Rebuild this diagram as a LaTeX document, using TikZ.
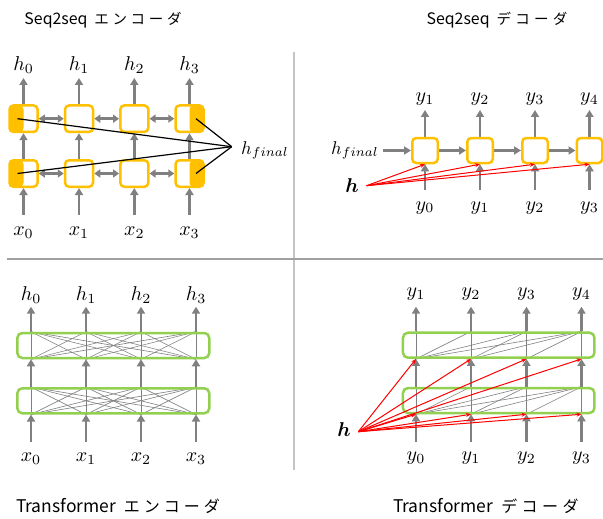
\documentclass[tikz,border=0pt]{standalone}
\usepackage{fontspec}
\usepackage{amsmath}
\usepackage{bm}
\newfontfamily\cjk{Noto Sans CJK JP}
\newcommand{\jc}[2]{\makebox[#1pt]{#2}}
\newcommand{\ml}[1]{\scalebox{2}{$#1$}}
\newcommand{\mlf}[1]{\scalebox{1.85}{$#1$}}
\usetikzlibrary{arrows.meta,backgrounds,calc}
\definecolor{gold}{HTML}{FFC000}
\definecolor{lgreen}{HTML}{92D050}
\definecolor{ag}{HTML}{808080}
\definecolor{divg}{HTML}{C4C4C4}
\begin{document}
\begin{tikzpicture}[x=1pt,y=-1pt,
  lab/.style={inner sep=0pt, font=\fontsize{10}{12}\selectfont},
  ttl/.style={inner sep=0pt, anchor=base, font=\cjk\fontsize{15}{18}\selectfont},
  rnnbox/.style={draw=gold, line width=2.5pt, rounded corners=4pt, fill=white, inner sep=0pt, minimum width=28pt, minimum height=26.5pt},
  rnnboxd/.style={rnnbox, minimum width=25.5pt, minimum height=25pt},
  fillL/.style={path picture={\fill[gold] (path picture bounding box.south west) rectangle (path picture bounding box.north);}},
  fillR/.style={path picture={\fill[gold] (path picture bounding box.south) rectangle (path picture bounding box.north east);}},
  layerbox/.style={draw=lgreen, line width=2.5pt, rounded corners=5pt, inner sep=0pt, minimum height=25pt},
  garrow/.style={draw=ag, line width=2.5pt, -{Triangle[length=7pt,width=8pt]}},
  gdarrow/.style={draw=ag, line width=2.5pt, {Triangle[length=6pt,width=8pt]}-{Triangle[length=6pt,width=8pt]}},
  attn/.style={draw=ag, line width=0.6pt},
  harrow/.style={draw=red, line width=1pt, -{Stealth[length=5pt,width=4pt]}},
  blk/.style={draw=black, line width=1.2pt},
  divider/.style={draw=divg, line width=1.5pt}
]
\useasboundingbox (0,0) rectangle (603,519);

% dividers
\draw[divider] (294,52) -- (294,470);
\draw[divider, draw=ag!75] (7,259) -- (603,259);

% titles
\node[ttl] (t1) at (104,25) {\resizebox{63pt}{!}{Seq2seq}\hspace{5pt}{\fontsize{14.5}{17}\selectfont\jc{18.2}{エ}\jc{18.2}{ン}\jc{18.2}{コ}\jc{18.2}{ー}\jc{18.2}{ダ}}};
\node[ttl] (t2) at (498,25) {\resizebox{63pt}{!}{Seq2seq}\hspace{5pt}{\fontsize{14.5}{17}\selectfont\jc{18.7}{デ}\jc{18.7}{コ}\jc{18.7}{ー}\jc{18.7}{ダ}}};
\node[ttl] (t3) at (119,512.5) {\resizebox{100pt}{!}{Transformer}\hspace{6pt}{\fontsize{16}{19}\selectfont\jc{20}{エ}\jc{20}{ン}\jc{20}{コ}\jc{20}{ー}\jc{20}{ダ}}};
\node[ttl] (t4) at (487,512.5) {\resizebox{100pt}{!}{Transformer}\hspace{6pt}{\fontsize{16}{19}\selectfont\jc{20.5}{デ}\jc{20.5}{コ}\jc{20.5}{ー}\jc{20.5}{ダ}}};

% ---------- Seq2seq encoder ----------
\node[rnnbox,fillL] (ea0) at (23.5,118.7) {};
\node[rnnbox] (ea1) at (79,118.7) {};
\node[rnnbox] (ea2) at (134.3,118.7) {};
\node[rnnbox,fillR] (ea3) at (189.5,118.7) {};
\node[rnnbox,fillL] (eb0) at (23.5,173.5) {};
\node[rnnbox] (eb1) at (79,173.5) {};
\node[rnnbox] (eb2) at (134.3,173.5) {};
\node[rnnbox,fillR] (eb3) at (189.5,173.5) {};
\foreach \i/\x in {0/23.5,1/79,2/134.3,3/189.5} {
  \node[lab,anchor=base] (eh\i) at (\x,71) {\ml{h_{\i}}};
  \node[lab,anchor=base] (ex\i) at (\x,235) {\ml{x_{\i}}};
  \coordinate (ehT\i) at (\x,78);
  \coordinate (exB\i) at (\x,215);
}
\begin{scope}[on background layer]
\foreach \i in {0,...,3} {
  \draw[garrow] (ea\i.north) -- (ehT\i);
  \draw[garrow] (eb\i.north) -- (ea\i.south);
  \draw[garrow] (exB\i) -- (eb\i.south);
}
\foreach \i/\j in {0/1,1/2,2/3} {
  \draw[gdarrow] (ea\i.east) -- (ea\j.west);
  \draw[gdarrow] (eb\i.east) -- (eb\j.west);
}
\end{scope}
\coordinate (hfp) at (231.7,146.7);
\draw[blk] ([xshift=-6pt]ea0.center) -- (hfp);
\draw[blk] ([xshift=-6pt]eb0.center) -- (hfp);
\draw[blk] ([xshift=6.5pt]ea3.center) -- (hfp);
\draw[blk] ([xshift=6.5pt]eb3.center) -- (hfp);
\node[lab,anchor=base west] (ehf) at (241,154) {\mlf{h_{final}}};

% ---------- Seq2seq decoder ----------
\foreach \i/\x in {0/425,1/480,2/535,3/589.5} {
  \node[rnnboxd] (da\i) at (\x,150.5) {};
  \pgfmathtruncatemacro{\k}{\i+1}
  \node[lab,anchor=base] (dy\i) at (\x,101.5) {\ml{y_{\k}}};
  \node[lab,anchor=base] (dyb\i) at (\x,210) {\ml{y_{\i}}};
  \coordinate (dT\i) at (\x,110);
  \coordinate (dB\i) at (\x,190);
}
\node[lab,anchor=base west] (dhf) at (331,154) {\mlf{h_{final}}};
\coordinate (dhfS) at (383,150.5);
\node[lab,anchor=base] (dh) at (352,192) {\ml{\bm{h}}};
\coordinate (dhp) at (366.5,185.7);
\begin{scope}[on background layer]
\foreach \i in {0,...,3} {
  \draw[garrow] (da\i.north) -- (dT\i);
  \draw[garrow] (dB\i) -- (da\i.south);
}
\foreach \i/\j in {0/1,1/2,2/3} {
  \draw[garrow] (da\i.east) -- (da\j.west);
}
\draw[garrow] (dhfS) -- (da0.west);
\end{scope}
\foreach \i in {0,...,3} {
  \draw[harrow] (dhp) -- (da\i.south);
}

% ---------- Transformer encoder ----------
\node[layerbox, minimum width=192pt] (ta) at (113.3,345.5) {};
\node[layerbox, minimum width=192pt] (tb) at (113.3,400.8) {};
\foreach \i/\x in {0/31,1/86,2/141,3/196} {
  \node[lab,anchor=base] (th\i) at (\x,300) {\ml{h_{\i}}};
  \node[lab,anchor=base] (tx\i) at (\x,461) {\ml{x_{\i}}};
  \coordinate (tT\i) at (\x,306.7);
  \coordinate (tB\i) at (\x,441.7);
}
\begin{scope}[on background layer]
\foreach \i in {0,...,3} {
  \draw[garrow] (tT\i |- ta.north) -- (tT\i);
  \draw[garrow] (tT\i |- tb.north) -- (tT\i |- ta.south);
  \draw[garrow] (tB\i) -- (tT\i |- tb.south);
  \foreach \j in {0,...,3} {
    \draw[attn] (tT\i |- ta.south) -- (tT\j |- ta.north);
    \draw[attn] (tT\i |- tb.south) -- (tT\j |- tb.north);
  }
}
\end{scope}

% ---------- Transformer decoder ----------
\node[layerbox, minimum width=191.5pt] (ua) at (498.7,345.2) {};
\node[layerbox, minimum width=191.5pt] (ub) at (498.7,400.5) {};
\foreach \i/\x in {0/416,1/471,2/526.5,3/581.5} {
  \pgfmathtruncatemacro{\k}{\i+1}
  \node[lab,anchor=base] (uy\i) at (\x,296.5) {\ml{y_{\k}}};
  \node[lab,anchor=base] (uyb\i) at (\x,460.5) {\ml{y_{\i}}};
  \coordinate (uT\i) at (\x,306.7);
  \coordinate (uB\i) at (\x,441.7);
}
\begin{scope}[on background layer]
\foreach \i in {0,...,3} {
  \draw[garrow] (uT\i |- ua.north) -- (uT\i);
  \draw[garrow] (uT\i |- ub.north) -- (uT\i |- ua.south);
  \draw[garrow] (uB\i) -- (uT\i |- ub.south);
  \foreach \j in {\i,...,3} {
    \draw[attn] (uT\i |- ua.south) -- (uT\j |- ua.north);
    \draw[attn] (uT\i |- ub.south) -- (uT\j |- ub.north);
  }
}
\end{scope}
\node[lab,anchor=base] (uh) at (344,436.7) {\ml{\bm{h}}};
\coordinate (uhp) at (358.3,431.7);
\foreach \i in {0,...,3} {
  \draw[harrow] (uhp) -- (uT\i |- ua.south);
  \draw[harrow] (uhp) -- (uT\i |- ub.south);
}
\end{tikzpicture}
\end{document}
